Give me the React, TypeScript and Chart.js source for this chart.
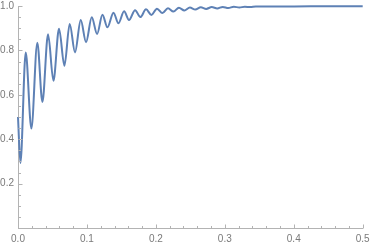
import React, { useEffect, useRef } from "react";
import { Chart, registerables } from "chart.js";

Chart.register(...registerables);

// curve samples (peaks and troughs of the damped oscillation)
const xValues = [0, 0.0035, 0.0112, 0.0194, 0.028, 0.0354, 0.0436, 0.0514, 0.0595, 0.0673, 0.075, 0.0827, 0.091, 0.0987, 0.107, 0.1147, 0.1225, 0.1297, 0.1385, 0.1457, 0.1539, 0.161, 0.1698, 0.1775, 0.1857, 0.1935, 0.2016, 0.2095, 0.2175, 0.2255, 0.2334, 0.2413, 0.2493, 0.2572, 0.2652, 0.273, 0.281, 0.289, 0.297, 0.305, 0.313, 0.321, 0.329, 0.337, 0.345, 0.4, 0.45, 0.5];
const yValues = [0.5, 0.293, 0.79, 0.448, 0.835, 0.568, 0.873, 0.663, 0.898, 0.731, 0.919, 0.791, 0.937, 0.837, 0.949, 0.874, 0.961, 0.904, 0.97, 0.922, 0.976, 0.937, 0.981, 0.95, 0.985, 0.96, 0.988, 0.968, 0.99, 0.975, 0.992, 0.98, 0.993, 0.984, 0.994, 0.987, 0.995, 0.989, 0.996, 0.991, 0.997, 0.993, 0.997, 0.995, 0.998, 0.998, 0.999, 0.999];

// tick positions
const xMajorTicks = [0, 0.1, 0.2, 0.3, 0.4, 0.5];
const xMinorTicks = [0.02, 0.04, 0.06, 0.08, 0.12, 0.14, 0.16, 0.18, 0.22, 0.24, 0.26, 0.28, 0.32, 0.34, 0.36, 0.38, 0.42, 0.44, 0.46, 0.48];
const yMajorTicks = [0.2, 0.4, 0.6, 0.8, 1.0];
const yMinorTicks = [0.05, 0.1, 0.15, 0.25, 0.3, 0.35, 0.45, 0.5, 0.55, 0.65, 0.7, 0.75, 0.85, 0.9, 0.95];

const AXIS_COLOR = "#b3b3b3";
const LABEL_COLOR = "#7a7a7a";
const LINE_COLOR = "#5e81b5";

const inwardTicks = {
  id: "inwardTicks",
  afterDraw(chart: any) {
    const { ctx, scales } = chart;
    const xs = scales.x;
    const ys = scales.y;
    ctx.save();
    ctx.strokeStyle = AXIS_COLOR;
    ctx.lineWidth = 1;
    const x0 = Math.round(xs.left) + 0.5;
    const y0 = Math.round(ys.bottom) + 0.5;
    const drawX = (v: number, len: number) => {
      const px = Math.round(xs.getPixelForValue(v)) + 0.5;
      ctx.beginPath();
      ctx.moveTo(px, y0);
      ctx.lineTo(px, y0 - len);
      ctx.stroke();
    };
    const drawY = (v: number, len: number) => {
      const py = Math.round(ys.getPixelForValue(v)) + 0.5;
      ctx.beginPath();
      ctx.moveTo(x0, py);
      ctx.lineTo(x0 + len, py);
      ctx.stroke();
    };
    xMajorTicks.forEach((v) => drawX(v, 4));
    xMinorTicks.forEach((v) => drawX(v, 2.5));
    yMajorTicks.forEach((v) => drawY(v, 4));
    yMinorTicks.forEach((v) => drawY(v, 2.5));
    ctx.restore();
  },
};

export default function App() {
  const ref = useRef<HTMLCanvasElement | null>(null);
  useEffect(() => {
    document.body.style.margin = "0";
    if (!ref.current) return;
    const chart = new Chart(ref.current, {
      type: "line",
      data: {
        datasets: [
          {
            data: xValues.map((x, i) => ({ x, y: yValues[i] })),
            borderColor: LINE_COLOR,
            borderWidth: 2,
            pointRadius: 0,
            cubicInterpolationMode: "monotone",
            fill: false,
            clip: false as any,
          },
        ],
      },
      options: {
        animation: false,
        responsive: false,
        layout: { padding: { top: 6, right: 8.3, left: 0, bottom: 0 } },
        plugins: { legend: { display: false }, tooltip: { enabled: false } },
        scales: {
          x: {
            type: "linear",
            min: 0,
            max: 0.5,
            grid: { display: false, drawTicks: false },
            border: { display: true, color: AXIS_COLOR, width: 1 },
            ticks: {
              stepSize: 0.1,
              padding: 5,
              color: LABEL_COLOR,
              font: { family: "Liberation Sans", size: 10 },
              maxRotation: 0,
              callback: (v: any) => Number(v).toFixed(1),
            },
            afterFit: (s: any) => {
              s.height = 17;
              s.paddingRight = 0;
              s.paddingLeft = 0;
            },
          },
          y: {
            type: "linear",
            min: 0,
            max: 1,
            grid: { display: false, drawTicks: false },
            border: { display: true, color: AXIS_COLOR, width: 1 },
            ticks: {
              stepSize: 0.2,
              padding: 4,
              color: LABEL_COLOR,
              font: { family: "Liberation Sans", size: 10 },
              callback: (v: any) => (Math.abs(Number(v)) < 1e-9 ? "" : Number(v).toFixed(1)),
            },
            afterFit: (s: any) => {
              s.width = 18;
              s.paddingTop = 0;
              s.paddingBottom = 0;
            },
          },
        },
      },
      plugins: [inwardTicks],
    });
    return () => chart.destroy();
  }, []);
  return (
    <div style={{ width: 371, height: 245 }}>
      <canvas ref={ref} width={371} height={245} style={{ display: "block" }} />
    </div>
  );
}
